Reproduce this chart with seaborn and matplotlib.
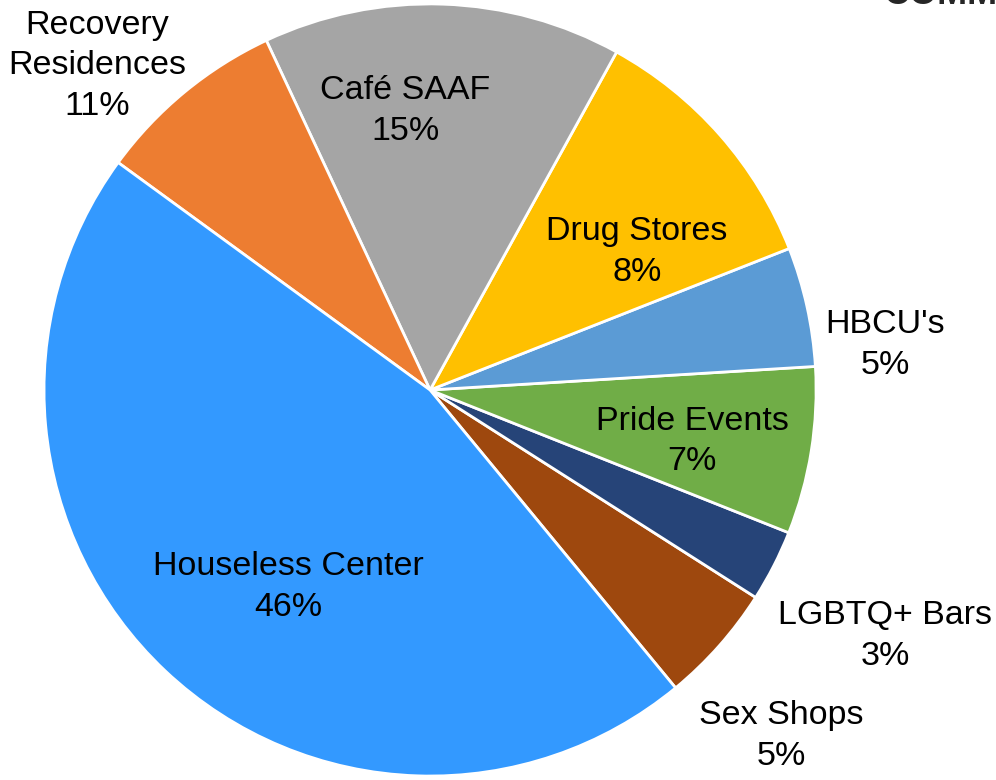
import numpy as np
import matplotlib.pyplot as plt
import seaborn as sns

# slices, counter-clockwise from the Houseless/Sex Shops boundary
categories = ["Sex Shops", "LGBTQ+ Bars", "Pride Events", "HBCU's", "Drug Stores",
              "Café SAAF", "Recovery\nResidences", "Houseless Center"]
values = [5, 3, 7, 5, 11, 15, 8, 46]          # slice sizes as drawn
pct_labels = ["5%", "3%", "7%", "5%", "8%", "15%", "11%", "46%"]  # text as printed
colors = ["#9E480E", "#264478", "#70AD47", "#5B9BD5", "#FFC000",
          "#A5A5A5", "#ED7D31", "#3399FF"]

# label placement: (angle offset from wedge middle in degrees, distance in radii)
label_layout = [(-2.8, 1.27), (-0.9, 1.335), (-1.2, 0.69), (-6.4, 1.185),
                (-6.8, 0.65), (6.9, 0.735), (5.9, 1.21), (7.1, 0.62)]

sns.set_style("white")
plt.rcParams["font.family"] = ["Liberation Sans", "DejaVu Sans"]

fig = plt.figure(figsize=(9.96, 7.8), dpi=100)
ax = fig.add_axes([0, 0, 1, 1])

wedges, _ = ax.pie(values, colors=colors, startangle=-50.5, counterclock=True,
                   wedgeprops=dict(edgecolor="white", linewidth=2))

for w, cat, pct, (off, dist) in zip(wedges, categories, pct_labels, label_layout):
    ang = np.deg2rad((w.theta1 + w.theta2) / 2 + off)
    ax.text(dist * np.cos(ang), dist * np.sin(ang) - 0.01, f"{cat}\n{pct}",
            ha="center", va="center", fontsize=24.5, linespacing=1.4, color="black")

ax.set_xlim(-1.114, 1.466)
ax.set_ylim(-1.010, 1.010)
ax.set_aspect("equal")
ax.axis("off")

# title cut off by the top edge of the picture
fig.text(883 / 996, 1 - 4 / 780, "COMMUNITY", ha="left", va="baseline",
         fontsize=26, fontweight="bold")

fig.savefig("out.png", dpi=100)
